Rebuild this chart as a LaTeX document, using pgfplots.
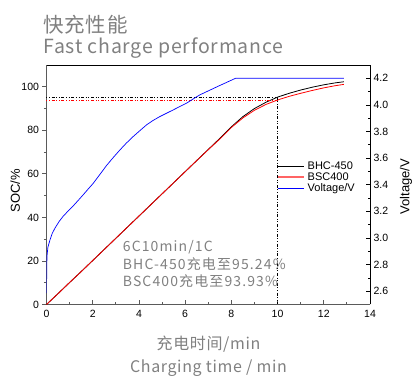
\documentclass[border=0pt]{standalone}
\usepackage{fontspec}
\setmainfont{Liberation Sans}
\newfontfamily\gfont[LetterSpace=8]{Noto Sans CJK SC}
\newfontfamily\tfont[LetterSpace=4]{Noto Sans CJK SC}
\usepackage{pgfplots}
\pgfplotsset{compat=1.18}
\definecolor{tgray}{HTML}{808080}
\definecolor{axgray}{HTML}{5A5A5A}
\definecolor{legred}{HTML}{FF6464}

\begin{document}
\begin{tikzpicture}[x=1pt,y=1pt]
\useasboundingbox (0,0) rectangle (415,377);
% titles
\node[anchor=base west, inner sep=0, text=tgray, font=\tfont\fontsize{20.5}{24}\selectfont] at (43,344) {快充性能};
\node[anchor=base west, inner sep=0, text=tgray, font=\tfont\fontsize{19.5}{24}\selectfont] at (43,323.7) {Fast charge performance};

\begin{axis}[
  at={(46.5pt,72.5pt)}, anchor=south west,
  width=323.5pt, height=239.5pt, scale only axis,
  xmin=0, xmax=14, ymin=0, ymax=110,
  xtick={0,2,4,6,8,10,12,14}, ytick={0,20,40,60,80,100},
  minor x tick num=1, minor y tick num=1,
  axis x line*=bottom, axis y line*=left,
  axis line style={-, axgray, line width=1.1pt},
  xtick align=inside, ytick align=outside,
  major tick length=4pt, minor tick length=2.5pt,
  tick style={axgray, line width=0.8pt},
  /pgf/number format/assume math mode=true,
  tick label style={font=\fontsize{10.5}{12}\selectfont},
  xticklabel style={yshift=-2pt},
  ylabel={SOC/\%},
  every axis y label/.style={at={(axis description cs:-0.097,0.475)}, rotate=90, anchor=center, font=\fontsize{13}{15}\selectfont},
  clip=false,
]
\addplot[black, line width=0.8pt] table {
x y
0 0
0.5 5.0
1 10.1
1.5 15.1
2 20.2
2.5 25.3
3 30.4
3.5 35.5
4 40.6
4.5 45.7
5 50.8
5.5 55.9
6 61.0
6.5 66.1
7 71.2
7.5 76.3
8 81.6
8.5 86.3
9 90.0
9.5 92.9
10 95.24
10.5 97.0
11 98.5
11.5 99.8
12 100.9
12.5 101.8
12.87 102.3
};
\addplot[red, line width=0.8pt] table {
x y
0 0
0.5 5.0
1 10.1
1.5 15.1
2 20.2
2.5 25.3
3 30.4
3.5 35.5
4 40.6
4.5 45.7
5 50.8
5.5 55.9
6 61.0
6.5 66.1
7 71.1
7.5 76.0
8 81.3
8.5 85.7
9 89.2
9.5 91.9
10 93.93
10.5 95.6
11 97.0
11.5 98.3
12 99.5
12.5 100.5
12.87 101.1
};
\addplot[black, line width=0.7pt, dash pattern=on 1pt off 1.6pt on 1pt off 1.6pt on 3pt off 1.6pt] coordinates {(0,95.24) (10,95.24) (10,0)};
\addplot[red, line width=0.7pt, dash pattern=on 1pt off 1.6pt on 1pt off 1.6pt on 3pt off 1.6pt] coordinates {(0,93.93) (10,93.93)};
\end{axis}

\begin{axis}[
  at={(46.5pt,72.5pt)}, anchor=south west,
  width=323.5pt, height=239.5pt, scale only axis,
  xmin=0, xmax=14, ymin=2.5, ymax=4.3,
  axis x line*=top, axis y line*=right,
  axis line style={-, black, line width=0.7pt},
  xtick=\empty,
  ytick={2.6,2.8,3.0,3.2,3.4,3.6,3.8,4.0,4.2},
  minor y tick num=1,
  ytick align=inside,
  major tick length=4pt, minor tick length=2.5pt,
  tick style={black, line width=0.7pt},
  /pgf/number format/assume math mode=true,
  /pgf/number format/.cd, fixed, fixed zerofill, precision=1, /pgfplots/.cd,
  tick label style={font=\fontsize{10.5}{12}\selectfont},
  ylabel={Voltage/V},
  every axis y label/.style={at={(axis description cs:1.111,0.492)}, rotate=90, anchor=center, font=\fontsize{13}{15}\selectfont},
  legend image code/.code={\draw[#1] (0pt,0pt) -- (26pt,0pt);},
  legend style={at={(axis description cs:0.7125,0.6)}, anchor=north west, draw=none, fill=none, inner sep=0pt, font=\fontsize{11}{13}\selectfont, row sep=-0.5pt, nodes={inner xsep=2.5pt, inner ysep=1pt}},
  legend cell align=left,
]
\addplot[blue, line width=0.7pt, forget plot] table {
x y
0 2.586
0.01 2.75
0.02 2.86
0.06 2.93
0.15 2.985
0.25 3.035
0.37 3.075
0.55 3.125
0.73 3.165
0.95 3.205
1.16 3.242
1.37 3.282
1.59 3.325
1.8 3.367
2.02 3.41
2.3 3.475
2.6 3.545
2.9 3.607
3.18 3.662
3.45 3.712
3.75 3.762
4.05 3.808
4.33 3.85
4.6 3.882
4.9 3.912
5.2 3.938
5.48 3.962
5.77 3.988
6.06 4.013
6.35 4.045
6.63 4.075
7.4 4.138
8.18 4.2
12.87 4.2
};
\addlegendimage{black, line width=0.8pt}
\addlegendentry{BHC-450}
\addlegendimage{legred, line width=2pt}
\addlegendentry{BSC400}
\addlegendimage{blue, line width=0.8pt}
\addlegendentry{Voltage/V}
\end{axis}

% annotation
\node[anchor=base west, inner sep=0, text=tgray, font=\gfont\fontsize{14}{17}\selectfont] at (122.7,125.3) {6C10min/1C};
\node[anchor=base west, inner sep=0, text=tgray, font=\gfont\fontsize{14}{17}\selectfont] at (122.7,107.5) {BHC-450充电至95.24\%};
\node[anchor=base west, inner sep=0, text=tgray, font=\gfont\fontsize{14}{17}\selectfont] at (122.7,90.3) {BSC400充电至93.93\%};
% x label
\node[anchor=base, inner sep=0, text=tgray, font=\tfont\fontsize{16}{19}\selectfont] at (208.5,27) {充电时间/min};
\node[anchor=base, inner sep=0, text=tgray, font=\tfont\fontsize{16}{19}\selectfont] at (208.5,4.3) {Charging time / min};
\end{tikzpicture}
\end{document}
